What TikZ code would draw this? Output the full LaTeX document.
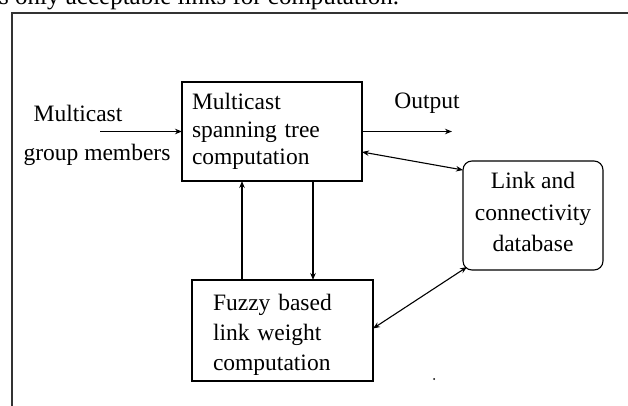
\documentclass[tikz,border=0pt]{standalone}
\usepackage{fontspec}
\setmainfont{Liberation Serif}
\usetikzlibrary{arrows.meta}
\tikzset{
  box/.style={draw, line width=1.1pt, rectangle, inner sep=0pt, outer sep=0pt},
  lbl/.style={inner sep=0pt, font=\fontsize{23.5}{27}\selectfont},
  conn/.style={line width=1.1pt, -{Stealth[length=7pt,width=5.5pt]}},
  dconn/.style={line width=1.1pt, {Stealth[length=7pt,width=5.5pt]}-{Stealth[length=7pt,width=5.5pt]}}
}
\begin{document}
\begin{tikzpicture}[x=1pt, y=-1pt]
\useasboundingbox (0,0) rectangle (628,406);
\clip (0,0) rectangle (628,406);
% caption remnant
\node[anchor=base west, inner sep=0pt, font=\fontsize{25}{25}\selectfont] (cap) at (-1,4.5) {s only acceptable links for computation.};
% outer frame
\coordinate (fbl) at (12,410);
\coordinate (ftl) at (12,13);
\coordinate (ftr) at (632,13);
\draw[line width=1.8pt, black!80] (fbl) -- (ftl) -- (ftr);
% boxes
\node[box, minimum width=180pt, minimum height=99pt, align=left, text width=160pt, inner xsep=10pt,
      font=\fontsize{23.5}{27.5}\selectfont] (A) at (272,131.5)
  {Multicast\\spanning tree\\computation};
\node[box, minimum width=181pt, minimum height=101pt, align=left, text width=139pt, inner xsep=21pt,
      font=\fontsize{23.5}{30}\selectfont] (B) at (282.5,330.5)
  {\rule{0pt}{24pt}Fuzzy based\\link weight\\computation};
\node[box, rounded corners=9pt, minimum width=140pt, minimum height=109pt, align=center,
      font=\fontsize{23.5}{31.5}\selectfont] (C) at (533,215.5)
  {Link and\\connectivity\\database\rule[-7pt]{0pt}{7pt}};
% labels
\node[lbl] (m1) at (78,113) {Multicast};
\node[lbl] (m2) at (97,155) {group members};
\node[lbl] (out) at (427,103) {Output};
% connectors
\coordinate (inS) at (100,131.5);
\draw[conn] (inS) -- (A.west);
\coordinate (outE) at (452,131.5);
\draw[conn] (A.east) -- (outE);
\draw[dconn] ([yshift=-20.5pt]A.east) -- ([yshift=-9pt]C.north west);
\draw[dconn] ([yshift=2pt]B.east) -- ([xshift=4pt,yshift=3pt]C.south west);
\draw[conn] ([xshift=-40.5pt]B.north) -- ([xshift=-30pt]A.south);
\draw[conn] ([xshift=41pt]A.south) -- ([xshift=30.5pt]B.north);
% stray dot
\fill (434,379) circle (1pt);
\end{tikzpicture}
\end{document}
